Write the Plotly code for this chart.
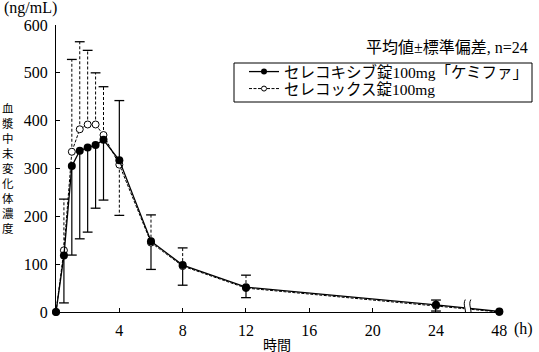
import plotly.graph_objects as go

# ---------------- data ----------------
times = [0, 0.5, 1, 1.5, 2, 2.5, 3, 4, 6, 8, 12, 24, 48]
test_name = "セレコキシブ錠100mg「ケミファ」"
ref_name = "セレコックス錠100mg"
test_mean = [0, 118, 305, 337, 344, 349, 360, 317, 148, 98, 52, 15, 1]
test_sd_up = [0, 0, 0, 0, 0, 0, 0, 125, 0, 0, 0, 10, 0]
test_sd_down = [0, 99, 186, 184, 177, 132, 126, 0, 59, 42, 22, 0, 0]
ref_mean = [0, 129, 335, 382, 392, 392, 370, 308, 145, 96, 50, 13, 0]
ref_sd_up = [0, 107, 193, 183, 155, 108, 101, 0, 58, 38, 27, 0, 0]
ref_sd_down = [0, 0, 0, 0, 0, 0, 0, 106, 0, 0, 0, 11, 0]
x_ticks = [4, 8, 12, 16, 20, 24, 48]
y_ticks = [0, 100, 200, 300, 400, 500, 600]
y_title = "血漿中未変化体濃度"

# broken time axis: after 24 h the scale is compressed
BREAK_AT = 24
COMPRESS = 6


def xpos(t):
    return t if t <= BREAK_AT else BREAK_AT + (t - BREAK_AT) / COMPRESS


FONT = "Liberation Serif, Noto Sans CJK JP"
L, R, T, B = 56, 37, 25, 40
W, H = 539, 352
PW, PH = W - L - R, H - T - B


def px(xp):
    return (xp - L) / PW


def py(yp):
    return (H - B - yp) / PH


fig = go.Figure()


def err_traces(mean, up, down, dash, width):
    xs, ys, cx, cy = [], [], [], []
    for t, m, u, d in zip(times, mean, up, down):
        for v in (u, -d):
            if v != 0:
                xs += [xpos(t), xpos(t), None]
                ys += [m, m + v, None]
                cx.append(xpos(t))
                cy.append(m + v)
    fig.add_trace(go.Scatter(x=xs, y=ys, mode="lines", showlegend=False,
                             line=dict(color="black", width=width, dash=dash),
                             hoverinfo="skip", cliponaxis=False))
    fig.add_trace(go.Scatter(x=cx, y=cy, mode="markers", showlegend=False,
                             marker=dict(symbol="line-ew", size=7,
                                         line=dict(color="black", width=1.3)),
                             hoverinfo="skip", cliponaxis=False))


err_traces(ref_mean, ref_sd_up, ref_sd_down, "3px,2px", 1)
err_traces(test_mean, test_sd_up, test_sd_down, "solid", 1.2)

REF_LINE = dict(color="black", width=1, dash="3px,1.5px")
TEST_LINE = dict(color="black", width=1.3)

xp = [xpos(t) for t in times]
fig.add_trace(go.Scatter(x=xp, y=ref_mean, mode="lines+markers", showlegend=False,
                         cliponaxis=False, line=REF_LINE,
                         marker=dict(symbol="circle", size=7, color="white",
                                     line=dict(color="black", width=1))))
fig.add_trace(go.Scatter(x=xp, y=test_mean, mode="lines+markers", showlegend=False,
                         cliponaxis=False, line=TEST_LINE,
                         marker=dict(symbol="circle", size=8, color="black")))

# legend entries (smaller symbols, as in the reference)
fig.add_trace(go.Scatter(x=[None], y=[None], mode="lines+markers", name=test_name,
                         legend="legend", line=TEST_LINE,
                         marker=dict(symbol="circle", size=6, color="black")))
fig.add_trace(go.Scatter(x=[None], y=[None], mode="lines+markers", name=ref_name,
                         legend="legend2", line=REF_LINE,
                         marker=dict(symbol="circle", size=5, color="white",
                                     line=dict(color="black", width=1))))

# axis break marks
b0, b1 = 25.8, 26.15
fig.add_shape(type="rect", xref="x", yref="y", x0=b0, x1=b1, y0=-9, y1=26,
              fillcolor="white", line=dict(width=0), layer="above")
for bx in (b0, b1):
    fig.add_shape(type="path", xref="x", yref="y", layer="above",
                  path=f"M {bx+0.05},26 C {bx-0.15},14 {bx+0.2},3 {bx},-9",
                  line=dict(color="black", width=1))

# legend frame
fig.add_shape(type="rect", xref="paper", yref="paper",
              x0=px(234), x1=px(532), y0=py(102), y1=py(63),
              line=dict(color="black", width=1), fillcolor="rgba(0,0,0,0)")

leg_common = dict(xanchor="left", yanchor="middle", borderwidth=0,
                  bgcolor="rgba(0,0,0,0)", font=dict(size=15.5), itemwidth=30)
fig.update_layout(
    width=W, height=H,
    margin=dict(l=L, r=R, t=T, b=B, autoexpand=False),
    paper_bgcolor="white", plot_bgcolor="white",
    font=dict(family=FONT, size=16, color="black"),
    showlegend=True,
    legend=dict(x=px(244), y=py(72), **leg_common),
    legend2=dict(x=px(244), y=py(89), **leg_common),
    xaxis=dict(range=[0, 28.17], showline=True, linecolor="black", linewidth=1,
               ticks="inside", ticklen=4, tickcolor="black",
               tickvals=[xpos(t) for t in x_ticks],
               ticktext=[str(t) for t in x_ticks],
               showgrid=False, zeroline=False, ticklabelstandoff=4,
               automargin=False),
    yaxis=dict(range=[0, 600], showline=True, linecolor="black", linewidth=1,
               ticks="inside", ticklen=4, tickcolor="black",
               tickvals=y_ticks, showgrid=False, zeroline=False,
               ticklabelstandoff=4, automargin=False),
)

ann = [
    dict(text="(ng/mL)", x=30, y=8),
    dict(text="(h)", x=523, y=329),
    dict(text="時間", x=277, y=345, size=14),
    dict(text="平均値±標準偏差, n=24", x=530, y=47, xanchor="right", size=16),
]
for a in ann:
    fig.add_annotation(text=a["text"], xref="paper", yref="paper",
                       x=px(a["x"]), y=py(a["y"]),
                       xanchor=a.get("xanchor", "center"), yanchor="middle",
                       showarrow=False, font=dict(size=a.get("size", 16)))
fig.add_annotation(text="<br>".join(y_title), xref="paper", yref="paper",
                   x=px(7.5), y=py(168), xanchor="center", yanchor="middle",
                   showarrow=False,
                   font=dict(size=11.5, family="Noto Sans CJK JP"))

fig.write_html("out.html")
